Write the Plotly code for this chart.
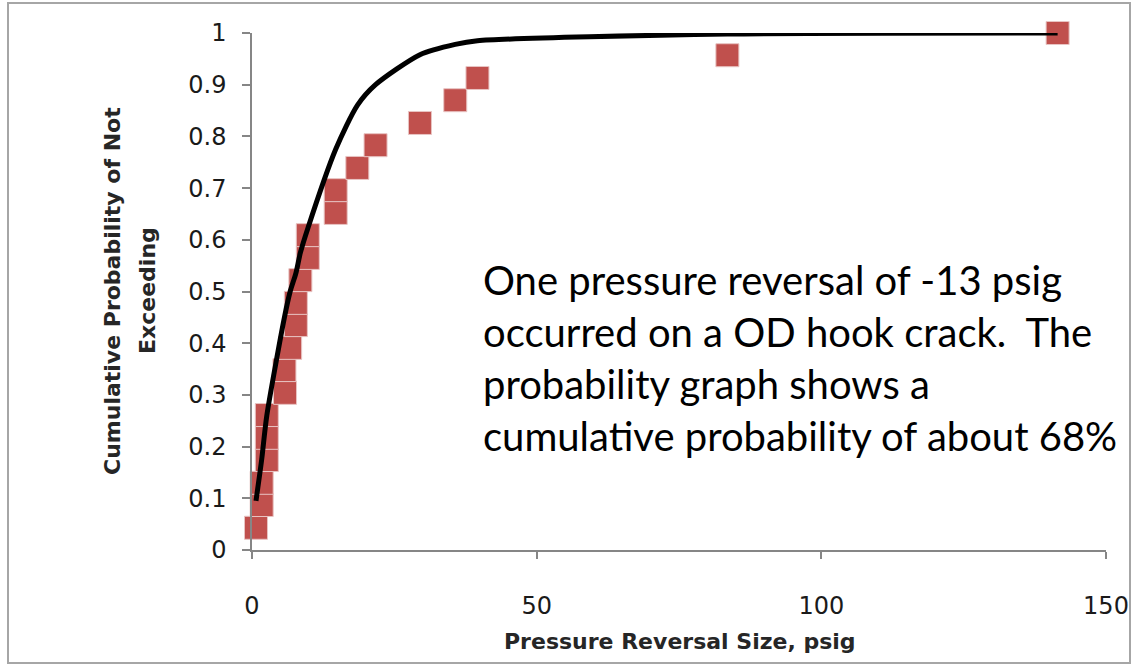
import plotly.graph_objects as go

# Observed pressure reversal data (psig) and cumulative probability
obs_x = [0.7, 1.7, 1.7, 2.6, 2.6, 2.6, 5.8, 5.7, 6.7, 7.7, 7.7, 8.5, 9.8, 9.8,
         14.7, 14.7, 18.5, 21.7, 29.5, 35.7, 39.6, 83.5, 141.5]
obs_y = [0.043, 0.087, 0.130, 0.174, 0.217, 0.261, 0.304, 0.348, 0.391, 0.435,
         0.478, 0.522, 0.565, 0.609, 0.652, 0.696, 0.739, 0.783, 0.826, 0.870,
         0.913, 0.957, 1.0]

# Fitted cumulative distribution curve
fit_x = [0.7, 1.7, 2.6, 5.7, 6.7, 7.7, 8.5, 9.8, 14.7, 18.5, 21.7, 29.5, 35.7,
         39.6, 83.5, 141.5]
fit_y = [0.095, 0.175, 0.26, 0.45, 0.50, 0.535, 0.575, 0.622, 0.775, 0.86, 0.90,
         0.958, 0.978, 0.985, 0.998, 1.0]

y_tickvals = [0, 0.1, 0.2, 0.3, 0.4, 0.5, 0.6, 0.7, 0.8, 0.9, 1]
y_ticktext = ["0", "0.1", "0.2", "0.3", "0.4", "0.5", "0.6", "0.7", "0.8", "0.9", "1"]
x_tickvals = [0, 50, 100, 150]
x_ticktext = ["0", "50", "100", "150"]

note = ("One pressure reversal of -13 psig<br>occurred on a OD hook crack.  The<br>"
        "probability graph shows a<br>cumulative probability of about 68%")

FONT = "DejaVu Sans"
NOTE_FONT = "Lato"
W, H = 1133, 667
L, R, T, B = 252, 27, 33, 117
pw, ph = W - L - R, H - T - B

def px(xp):
    return (xp - L) / pw

def py(yp):
    return (H - B - yp) / ph

fig = go.Figure()
fig.add_trace(go.Scatter(
    x=obs_x, y=obs_y, mode="markers",
    marker=dict(symbol="square", size=23, color="#C0504D",
                line=dict(color="#E8C4C3", width=1)),
    cliponaxis=False, showlegend=False))
fig.add_trace(go.Scatter(
    x=fit_x, y=fit_y, mode="lines",
    line=dict(color="black", width=5, shape="spline", smoothing=0.7),
    cliponaxis=False, showlegend=False))

fig.update_layout(
    width=W, height=H,
    margin=dict(l=L, r=R, t=T, b=B, pad=0, autoexpand=False),
    paper_bgcolor="white", plot_bgcolor="white",
    font=dict(family=FONT, color="black", size=22),
    xaxis=dict(range=[0, 150], tickvals=x_tickvals, ticktext=x_ticktext,
               automargin=False,
               showgrid=False, zeroline=False, showline=True,
               linecolor="#868686", linewidth=1.5, ticks="outside",
               ticklen=7, tickcolor="#868686", tickwidth=1.5,
               ticklabelstandoff=26, tickfont=dict(size=24, family=FONT, color="#1a1a1a")),
    yaxis=dict(range=[0, 1], tickvals=y_tickvals, ticktext=y_ticktext,
               automargin=False,
               showgrid=False, zeroline=False, showline=True,
               linecolor="#868686", linewidth=1.5, ticks="outside",
               ticklen=8, tickcolor="#868686", tickwidth=1.5,
               ticklabelstandoff=11, tickfont=dict(size=24, family=FONT, color="#1a1a1a")),
    shapes=[dict(type="rect", xref="paper", yref="paper",
                 x0=px(8), x1=px(1130), y0=py(663), y1=py(3),
                 line=dict(color="#A6A6A6", width=2), layer="below")],
    annotations=[
        dict(text=note, xref="paper", yref="paper", x=px(481), y=py(358),
             xanchor="left", yanchor="middle", align="left", showarrow=False,
             font=dict(family=NOTE_FONT, size=40, color="black")),
        dict(text="<b>Pressure Reversal Size, psig</b>", xref="paper", yref="paper",
             x=px(680), y=py(641), xanchor="center", yanchor="middle",
             showarrow=False, font=dict(family=FONT, size=22, color="#262626")),
        dict(text="<b>Cumulative Probability of Not</b>", xref="paper", yref="paper",
             x=px(112), y=py(291), xanchor="center", yanchor="middle", textangle=-90,
             showarrow=False, font=dict(family=FONT, size=22, color="#262626")),
        dict(text="<b>Exceeding</b>", xref="paper", yref="paper",
             x=px(147), y=py(291), xanchor="center", yanchor="middle", textangle=-90,
             showarrow=False, font=dict(family=FONT, size=22, color="#262626")),
    ],
)

fig.write_html("out.html")
